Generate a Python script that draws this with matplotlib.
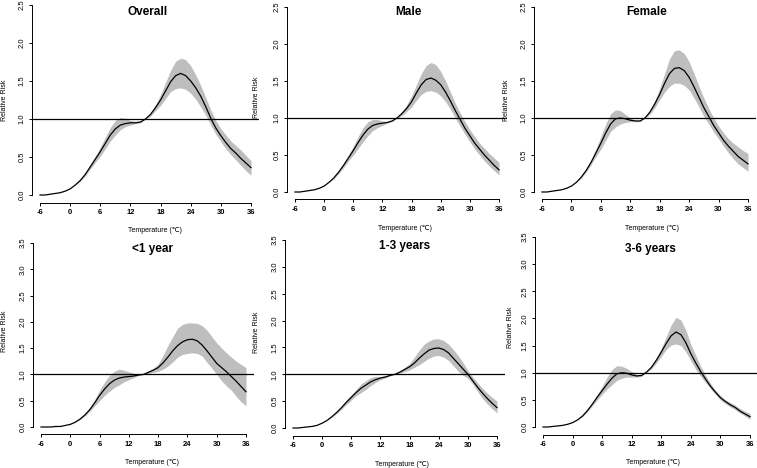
"""Exposure-response curves (relative risk vs temperature), six panels."""

import matplotlib.pyplot as plt
import numpy as np

plt.rcParams["font.family"] = ["Liberation Sans", "DejaVu Sans"]

# ── data ──
temps = list(range(-6, 37))
x_ticks = [-6, 0, 6, 12, 18, 24, 30, 36]

overall_rr = [0.00, 0.00, 0.01, 0.02, 0.03, 0.05, 0.08, 0.13, 0.19, 0.27, 0.37, 0.47, 0.57, 0.68, 0.79,
              0.87, 0.92, 0.94, 0.95, 0.95, 0.96, 1.00, 1.06, 1.15, 1.25, 1.37, 1.49, 1.57, 1.60, 1.57,
              1.50, 1.41, 1.30, 1.16, 1.01, 0.88, 0.78, 0.69, 0.61, 0.55, 0.48, 0.42, 0.36]
overall_hi = [0.00, 0.00, 0.01, 0.02, 0.03, 0.05, 0.08, 0.13, 0.20, 0.29, 0.40, 0.51, 0.63, 0.76, 0.89,
              0.98, 1.02, 1.01, 0.98, 0.97, 0.97, 1.00, 1.08, 1.19, 1.32, 1.48, 1.64, 1.76, 1.80, 1.78,
              1.70, 1.58, 1.44, 1.28, 1.12, 0.98, 0.87, 0.79, 0.71, 0.65, 0.59, 0.52, 0.45]
overall_lo = [0.00, 0.00, 0.01, 0.02, 0.03, 0.05, 0.08, 0.13, 0.18, 0.25, 0.34, 0.43, 0.51, 0.61, 0.71,
              0.79, 0.86, 0.90, 0.92, 0.94, 0.95, 1.00, 1.04, 1.11, 1.18, 1.27, 1.36, 1.40, 1.41, 1.39,
              1.34, 1.26, 1.16, 1.05, 0.92, 0.80, 0.70, 0.61, 0.53, 0.46, 0.39, 0.32, 0.26]

male_rr = [0.00, 0.00, 0.01, 0.02, 0.03, 0.05, 0.08, 0.13, 0.19, 0.27, 0.36, 0.46, 0.56, 0.67, 0.77,
           0.85, 0.90, 0.92, 0.93, 0.94, 0.96, 1.00, 1.06, 1.13, 1.22, 1.34, 1.45, 1.52, 1.54, 1.51,
           1.45, 1.35, 1.23, 1.10, 0.98, 0.86, 0.76, 0.66, 0.58, 0.50, 0.43, 0.36, 0.30]
male_hi = [0.00, 0.00, 0.01, 0.02, 0.03, 0.05, 0.08, 0.13, 0.20, 0.29, 0.39, 0.50, 0.62, 0.75, 0.87,
           0.95, 0.98, 0.98, 0.96, 0.95, 0.97, 1.00, 1.08, 1.18, 1.30, 1.45, 1.60, 1.71, 1.75, 1.72,
           1.63, 1.50, 1.35, 1.20, 1.07, 0.95, 0.84, 0.75, 0.66, 0.59, 0.52, 0.46, 0.40]
male_lo = [0.00, 0.00, 0.01, 0.02, 0.03, 0.05, 0.08, 0.13, 0.18, 0.25, 0.33, 0.42, 0.50, 0.59, 0.68,
           0.76, 0.83, 0.87, 0.90, 0.93, 0.95, 1.00, 1.03, 1.09, 1.15, 1.24, 1.32, 1.36, 1.37, 1.35,
           1.30, 1.22, 1.12, 1.00, 0.89, 0.78, 0.68, 0.58, 0.50, 0.42, 0.35, 0.29, 0.23]

female_rr = [0.00, 0.00, 0.01, 0.02, 0.03, 0.05, 0.08, 0.13, 0.20, 0.29, 0.40, 0.53, 0.66, 0.80, 0.92,
             0.99, 1.00, 0.99, 0.97, 0.96, 0.96, 1.00, 1.08, 1.19, 1.32, 1.47, 1.60, 1.67, 1.68, 1.64,
             1.55, 1.42, 1.28, 1.14, 1.02, 0.90, 0.80, 0.70, 0.62, 0.55, 0.48, 0.43, 0.38]
female_hi = [0.00, 0.00, 0.01, 0.02, 0.03, 0.05, 0.08, 0.13, 0.21, 0.31, 0.43, 0.58, 0.75, 0.92, 1.06,
             1.11, 1.10, 1.05, 1.00, 0.97, 0.97, 1.00, 1.10, 1.24, 1.40, 1.60, 1.80, 1.91, 1.92, 1.87,
             1.76, 1.60, 1.43, 1.27, 1.13, 1.00, 0.89, 0.80, 0.72, 0.66, 0.61, 0.56, 0.52]
female_lo = [0.00, 0.00, 0.01, 0.02, 0.03, 0.05, 0.08, 0.13, 0.19, 0.27, 0.37, 0.48, 0.58, 0.70, 0.82,
             0.88, 0.92, 0.94, 0.95, 0.95, 0.95, 1.00, 1.05, 1.14, 1.25, 1.35, 1.43, 1.47, 1.47, 1.44,
             1.38, 1.27, 1.15, 1.02, 0.92, 0.81, 0.72, 0.62, 0.53, 0.45, 0.38, 0.33, 0.28]

under1_rr = [0.00, 0.00, 0.00, 0.01, 0.01, 0.03, 0.05, 0.09, 0.15, 0.23, 0.33, 0.46, 0.60, 0.72, 0.82,
             0.89, 0.93, 0.95, 0.96, 0.97, 0.99, 1.00, 1.04, 1.08, 1.13, 1.22, 1.33, 1.45, 1.55, 1.62,
             1.66, 1.67, 1.64, 1.56, 1.45, 1.33, 1.21, 1.13, 1.05, 0.96, 0.87, 0.77, 0.67]
under1_hi = [0.00, 0.00, 0.00, 0.01, 0.01, 0.03, 0.05, 0.09, 0.16, 0.25, 0.37, 0.52, 0.70, 0.85, 0.98,
             1.06, 1.10, 1.08, 1.05, 1.02, 1.00, 1.00, 1.07, 1.12, 1.20, 1.36, 1.55, 1.72, 1.88, 1.95,
             1.98, 1.98, 1.97, 1.93, 1.84, 1.72, 1.60, 1.50, 1.41, 1.33, 1.25, 1.19, 1.13]
under1_lo = [0.00, 0.00, 0.00, 0.01, 0.01, 0.03, 0.05, 0.09, 0.14, 0.21, 0.30, 0.40, 0.50, 0.60, 0.68,
             0.75, 0.80, 0.86, 0.90, 0.94, 0.98, 1.00, 1.02, 1.04, 1.06, 1.10, 1.16, 1.24, 1.33, 1.38,
             1.40, 1.41, 1.40, 1.35, 1.23, 1.12, 1.00, 0.88, 0.78, 0.70, 0.58, 0.48, 0.40]

age1to3_rr = [0.00, 0.00, 0.01, 0.02, 0.03, 0.05, 0.09, 0.14, 0.21, 0.29, 0.38, 0.48, 0.57, 0.66, 0.74,
              0.80, 0.86, 0.90, 0.93, 0.95, 0.98, 1.00, 1.04, 1.09, 1.14, 1.21, 1.30, 1.38, 1.45, 1.48,
              1.49, 1.46, 1.40, 1.30, 1.20, 1.10, 1.00, 0.88, 0.76, 0.65, 0.55, 0.46, 0.38]
age1to3_hi = [0.00, 0.00, 0.01, 0.02, 0.03, 0.05, 0.09, 0.14, 0.22, 0.31, 0.41, 0.52, 0.62, 0.72, 0.82,
              0.88, 0.94, 0.96, 0.96, 0.97, 0.99, 1.00, 1.07, 1.13, 1.20, 1.32, 1.45, 1.56, 1.62, 1.66,
              1.66, 1.63, 1.56, 1.46, 1.35, 1.22, 1.07, 0.95, 0.84, 0.74, 0.65, 0.57, 0.50]
age1to3_lo = [0.00, 0.00, 0.01, 0.02, 0.03, 0.05, 0.09, 0.14, 0.20, 0.27, 0.35, 0.44, 0.52, 0.60, 0.66,
              0.72, 0.79, 0.85, 0.90, 0.93, 0.97, 1.00, 1.02, 1.05, 1.08, 1.13, 1.18, 1.24, 1.30, 1.34,
              1.35, 1.32, 1.26, 1.16, 1.06, 0.98, 0.93, 0.82, 0.68, 0.55, 0.45, 0.36, 0.28]

age3to6_rr = [0.00, 0.00, 0.01, 0.02, 0.03, 0.05, 0.08, 0.13, 0.20, 0.30, 0.42, 0.55, 0.67, 0.79, 0.90,
              0.98, 1.00, 0.99, 0.96, 0.94, 0.95, 1.01, 1.10, 1.23, 1.38, 1.54, 1.68, 1.75, 1.70, 1.55,
              1.35, 1.18, 1.02, 0.88, 0.75, 0.64, 0.54, 0.47, 0.41, 0.36, 0.29, 0.24, 0.19]
age3to6_hi = [0.00, 0.00, 0.01, 0.02, 0.03, 0.05, 0.08, 0.13, 0.21, 0.32, 0.45, 0.60, 0.75, 0.92, 1.06,
              1.13, 1.12, 1.08, 1.02, 0.97, 0.96, 1.01, 1.13, 1.28, 1.45, 1.66, 1.88, 2.02, 1.97, 1.78,
              1.52, 1.32, 1.12, 0.95, 0.80, 0.68, 0.58, 0.50, 0.45, 0.40, 0.34, 0.29, 0.25]
age3to6_lo = [0.00, 0.00, 0.01, 0.02, 0.03, 0.05, 0.08, 0.13, 0.19, 0.28, 0.39, 0.50, 0.60, 0.70, 0.78,
              0.86, 0.90, 0.92, 0.92, 0.92, 0.93, 1.01, 1.07, 1.18, 1.30, 1.43, 1.51, 1.53, 1.50, 1.38,
              1.22, 1.06, 0.93, 0.82, 0.70, 0.60, 0.50, 0.43, 0.37, 0.32, 0.26, 0.20, 0.14]

titles = ["Overall", "Male", "Female", "<1 year", "1-3 years", "3-6 years"]
y_maxes = [2.5, 2.5, 2.5, 3.5, 3.5, 3.5]
series = [
    (overall_rr, overall_lo, overall_hi),
    (male_rr, male_lo, male_hi),
    (female_rr, female_lo, female_hi),
    (under1_rr, under1_lo, under1_hi),
    (age1to3_rr, age1to3_lo, age1to3_hi),
    (age3to6_rr, age3to6_lo, age3to6_hi),
]

# ── layout (pixel anchors: x of -6, x of 36, y of 0, y of top tick) ──
W, H = 757, 468
anchors = [
    (40, 251, 195, 5), (295, 499, 192, 7), (542, 748, 192, 7),
    (41, 246, 427, 243), (293, 497, 428, 240), (543, 750, 427, 237),
]
title_pos = [(148, 12), (408, 12), (647, 12), (153, 249), (405, 246), (650, 249)]
ylab_pos = [(5, 100), (257, 97), (507, 100), (5, 331), (257, 332), (510, 327)]
xlab_pos = [(155, 230), (405, 228), (652, 228), (152, 463), (402, 464), (653, 463)]


def main():
    fig = plt.figure(figsize=(W / 100, H / 100), dpi=100)
    fig.patch.set_facecolor("white")

    for i, (rr, lo, hi) in enumerate(series):
        a, b, y0, yt = anchors[i]
        ymax = y_maxes[i]
        left = (a - 0.04 * (b - a)) / W
        width = 1.08 * (b - a) / W
        bottom = 1 - (y0 + 0.04 * (y0 - yt)) / H
        height = 1.08 * (y0 - yt) / H
        ax = fig.add_axes([left, bottom, width, height])
        ax.patch.set_alpha(0)

        ax.fill_between(temps, lo, hi, color="#bebebe", lw=0)
        ax.plot(temps, rr, color="black", lw=0.9)
        ax.axhline(1.0, color="black", lw=0.9)

        ax.set_xlim(-7.68, 37.68)
        ax.set_ylim(-0.04 * ymax, 1.04 * ymax)
        y_ticks = np.arange(0, ymax + 0.01, 0.5)
        ax.set_xticks(x_ticks)
        ax.set_yticks(y_ticks)
        ax.set_yticklabels([f"{v:.1f}" for v in y_ticks], rotation=90, va="center", fontsize=5.5)
        ax.set_xticklabels([str(t) for t in x_ticks], fontsize=5.5, fontweight="bold")

        for side in ("top", "right"):
            ax.spines[side].set_visible(False)
        ax.spines["left"].set_bounds(0, ymax)
        ax.spines["bottom"].set_bounds(-6, 36)
        for side in ("left", "bottom"):
            ax.spines[side].set_linewidth(0.7)
        ax.tick_params(axis="both", length=2, width=0.7, pad=2.5)

        tx, ty = title_pos[i]
        fig.text(tx / W, 1 - ty / H, titles[i], ha="center", va="center",
                 fontsize=8.5, fontweight="bold")
        lx, ly = ylab_pos[i]
        fig.text(lx / W, 1 - ly / H, "Relative Risk", ha="center", va="center",
                 rotation=90, fontsize=5)
        xx, xy = xlab_pos[i]
        fig.text(xx / W, 1 - xy / H, "Temperature (℃)", ha="center", va="center",
                 fontsize=5)

    fig.savefig("out.png", dpi=100)
    plt.close(fig)


if __name__ == "__main__":
    main()
